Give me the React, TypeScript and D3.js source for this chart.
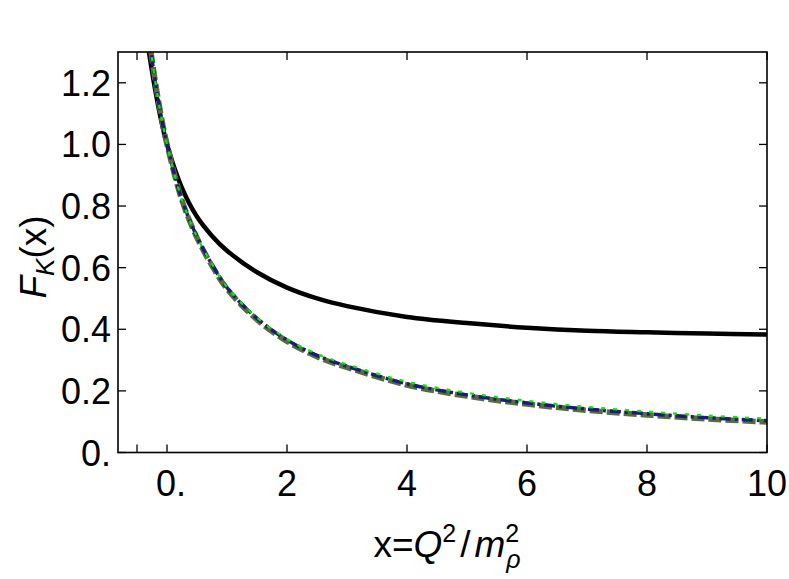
import React from 'react';
import * as d3 from 'd3';

// sample points
const xs = [-0.31, -0.2, -0.1, 0, 0.25, 0.5, 0.75, 1, 1.5, 2, 2.5, 3, 4, 5, 6, 7, 8, 9, 10];
const solidF = [1.31, 1.18, 1.08, 1.0, 0.858, 0.765, 0.703, 0.655, 0.585, 0.535, 0.5, 0.475, 0.44, 0.42, 0.405, 0.395, 0.39, 0.386, 0.383];
const blueF = [1.36, 1.21, 1.095, 1.0, 0.82, 0.7, 0.61, 0.535, 0.435, 0.365, 0.315, 0.28, 0.223, 0.187, 0.161, 0.141, 0.126, 0.113, 0.103];
const greenF = [1.36, 1.21, 1.095, 1.0, 0.82, 0.7, 0.612, 0.537, 0.438, 0.369, 0.32, 0.286, 0.23, 0.194, 0.168, 0.148, 0.133, 0.12, 0.11];
const oliveF = [1.36, 1.21, 1.095, 1.0, 0.818, 0.697, 0.606, 0.531, 0.431, 0.361, 0.311, 0.276, 0.219, 0.183, 0.157, 0.137, 0.122, 0.109, 0.099];

const xTicks = [-0.5, 0, 2, 4, 6, 8, 10];
const xTickLabels = ['', '0.', '2', '4', '6', '8', '10'];
const yTicks = [0, 0.2, 0.4, 0.6, 0.8, 1.0, 1.2];
const yTickLabels = ['0.', '0.2', '0.4', '0.6', '0.8', '1.0', '1.2'];

const W = 789;
const H = 579;
const left = 118, right = 767, top = 52, bottom = 452.5;

const App = () => {
  const x = d3.scaleLinear().domain([-0.817, 10]).range([left, right]);
  const y = d3.scaleLinear().domain([0, 1.3]).range([bottom, top]);

  const line = (vals: number[]) =>
    d3.line<number>()
      .x((_, i) => x(xs[i]))
      .y(d => y(d))
      .curve(d3.curveCatmullRom.alpha(0.5))(vals) || '';

  const font = "'Liberation Sans', Arial, Helvetica, sans-serif";
  const tickLen = 8;

  return (
    <svg width={W} height={H} style={{ position: 'absolute', left: 0, top: 0, background: '#fff' }} fontFamily={font}>
      <defs>
        <clipPath id="plot">
          <rect x={left} y={top} width={right - left} height={bottom - top} />
        </clipPath>
      </defs>

      <g clipPath="url(#plot)" fill="none" strokeLinecap="butt">
        <path d={line(solidF)} stroke="#000" strokeWidth={4.5} />
        <path d={line(oliveF)} stroke="#586c3c" strokeWidth={5.5} strokeDasharray="13,4" />
        <path d={line(blueF)} stroke="#1c1c78" strokeWidth={3.5} strokeDasharray="11,4,3,4" />
        <path d={line(greenF)} stroke="#00ee00" strokeWidth={2.2} strokeDasharray="4,8" />
      </g>

      {/* frame */}
      <rect x={left} y={top} width={right - left} height={bottom - top} fill="none" stroke="#000" strokeWidth={1.6} />

      {xTicks.map((t, i) => (
        <g key={'x' + i}>
          <line x1={x(t)} x2={x(t)} y1={bottom} y2={bottom - tickLen} stroke="#000" strokeWidth={1.3} />
          <line x1={x(t)} x2={x(t)} y1={top} y2={top + tickLen} stroke="#000" strokeWidth={1.3} />
          <text x={x(t) + (t === 0 ? 4 : 0)} y={496} fontSize={36} textAnchor="middle">{xTickLabels[i]}</text>
        </g>
      ))}
      {yTicks.map((t, i) => (
        <g key={'y' + i}>
          <line x1={left} x2={left + tickLen} y1={y(t)} y2={y(t)} stroke="#000" strokeWidth={1.3} />
          <line x1={right} x2={right - tickLen} y1={y(t)} y2={y(t)} stroke="#000" strokeWidth={1.3} />
          <text x={111} y={y(t) + 13} fontSize={36} textAnchor="end">{yTickLabels[i]}</text>
        </g>
      ))}

      {/* y label */}
      <text transform="translate(46,257) rotate(-90)" fontSize={37} textAnchor="middle">
        <tspan fontStyle="italic">F</tspan>
        <tspan fontStyle="italic" fontSize={26} dy={8}>K</tspan>
        <tspan dy={-8}>(x)</tspan>
      </text>

      {/* x label */}
      <text x={447} y={557} fontSize={37} textAnchor="middle">
        <tspan>x=</tspan>
        <tspan fontStyle="italic">Q</tspan>
        <tspan fontSize={25} dy={-15}>2</tspan>
        <tspan dx={4} dy={15}>/</tspan>
        <tspan dx={4} fontStyle="italic">m</tspan>
        <tspan fontSize={25} dy={-15}>2</tspan>
        <tspan fontSize={25} fontStyle="italic" dx={-13} dy={26}>ρ</tspan>
      </text>
    </svg>
  );
};

export default App;
